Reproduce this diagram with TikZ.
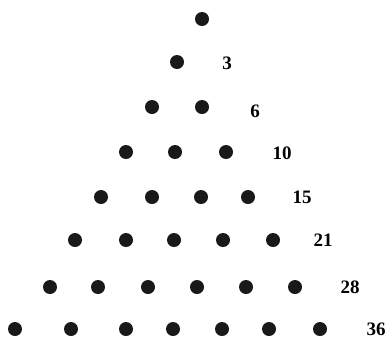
\documentclass[tikz,border=0pt]{standalone}
\usepackage{fontspec}
\newfontfamily\numfont{Liberation Serif}
\begin{document}
\begin{tikzpicture}[x=1pt,y=-1pt,
  dot/.style={circle,fill=black!90,inner sep=0pt,minimum size=14pt},
  num/.style={font=\numfont\fontsize{19}{19}\selectfont\bfseries,inner sep=0pt}]
\useasboundingbox (0,0) rectangle (387,338);
% row 1
\node[dot] (a1) at (202,19) {};
% row 2
\node[dot] (b1) at (177,62) {};
\node[num] (lb) at (227,63) {3};
% row 3
\foreach \x [count=\i] in {152,202} \node[dot] (c\i) at (\x,107) {};
\node[num] (lc) at (255,111) {6};
% row 4
\foreach \x [count=\i] in {126,175,226} \node[dot] (d\i) at (\x,152) {};
\node[num] (ld) at (282,153) {10};
% row 5
\foreach \x [count=\i] in {101,152,201,248} \node[dot] (e\i) at (\x,197) {};
\node[num] (le) at (302,197) {15};
% row 6
\foreach \x [count=\i] in {75,126,174,223,273} \node[dot] (f\i) at (\x,240) {};
\node[num] (lf) at (323,240) {21};
% row 7
\foreach \x [count=\i] in {50,98,148,197,246,295} \node[dot] (g\i) at (\x,287) {};
\node[num] (lg) at (350,287) {28};
% row 8
\foreach \x [count=\i] in {15,71,126,173,222,269,320} \node[dot] (h\i) at (\x,329) {};
\node[num] (lh) at (376,329) {36};
\end{tikzpicture}
\end{document}
